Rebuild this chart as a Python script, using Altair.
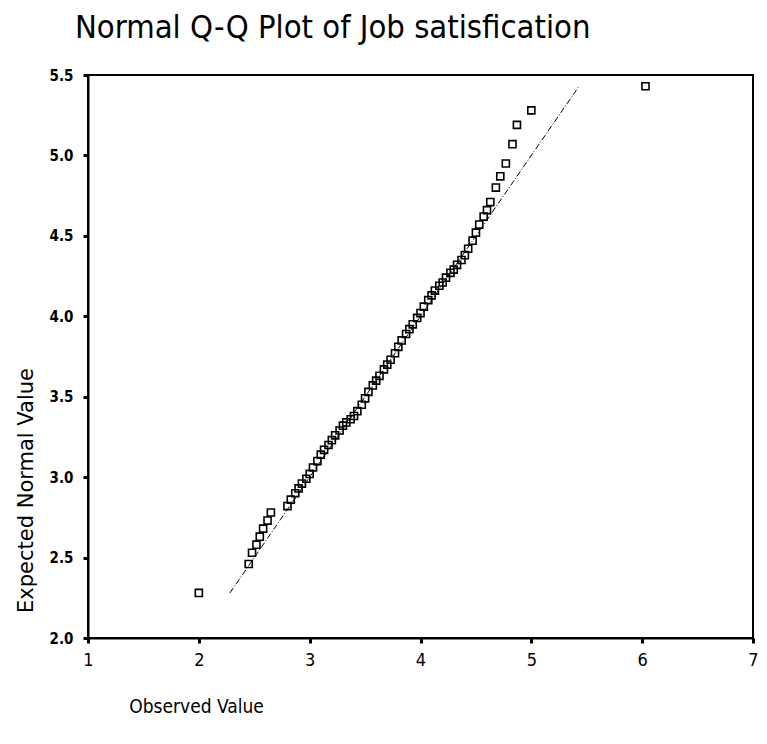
import altair as alt
import pandas as pd

# Observed values (job satisfaction scores) and their expected normal values
observed = [2.00, 2.45, 2.48, 2.52, 2.55, 2.58, 2.62, 2.65,
            2.80, 2.83, 2.87, 2.90, 2.93, 2.97, 3.00, 3.03, 3.07, 3.10,
            3.13, 3.17, 3.20, 3.23, 3.27, 3.30, 3.33, 3.37, 3.40, 3.43,
            3.47, 3.50, 3.53, 3.57, 3.60, 3.63, 3.67, 3.70, 3.73, 3.77,
            3.80, 3.83, 3.87, 3.90, 3.93, 3.97, 4.00, 4.03, 4.07, 4.10,
            4.13, 4.17, 4.20, 4.23, 4.27, 4.30, 4.33, 4.37, 4.40, 4.43,
            4.47, 4.50, 4.53, 4.57, 4.60, 4.63, 4.68, 4.72, 4.77, 4.83,
            4.87, 5.00, 6.03]
expected = [2.28, 2.46, 2.53, 2.58, 2.63, 2.68, 2.73, 2.78,
            2.82, 2.86, 2.90, 2.93, 2.96, 2.99, 3.02, 3.06, 3.10, 3.14,
            3.17, 3.20, 3.23, 3.26, 3.29, 3.32, 3.34, 3.36, 3.38, 3.41,
            3.45, 3.49, 3.53, 3.57, 3.60, 3.63, 3.67, 3.70, 3.73, 3.77,
            3.81, 3.85, 3.89, 3.92, 3.95, 3.99, 4.02, 4.06, 4.10, 4.13,
            4.16, 4.19, 4.21, 4.24, 4.27, 4.29, 4.32, 4.35, 4.38, 4.42,
            4.47, 4.52, 4.57, 4.62, 4.66, 4.71, 4.80, 4.87, 4.95, 5.07,
            5.19, 5.28, 5.43]

# Reference line (expected = observed) end points
line_x = [2.28, 5.43]
line_y = [2.28, 5.43]

x_ticks = [1, 2, 3, 4, 5, 6, 7]
y_ticks = [2.0, 2.5, 3.0, 3.5, 4.0, 4.5, 5.0, 5.5]

pts = pd.DataFrame({"Observed": observed, "Expected": expected})
ref = pd.DataFrame({"Observed": line_x, "Expected": line_y})

LBL = "DejaVu Sans Condensed"

xscale = alt.Scale(domain=[1, 7], nice=False, zero=False)
yscale = alt.Scale(domain=[2.0, 5.5], nice=False, zero=False)

xaxis = alt.Axis(values=x_ticks, format="d", title="Observed Value",
                 grid=False, domainColor="black", domainWidth=2,
                 tickColor="black", tickWidth=3, tickSize=5,
                 labelFont=LBL, labelFontSize=18, labelColor="black",
                 labelPadding=8, labelFlush=False,
                 titleFont=LBL, titleFontSize=19, titleFontWeight="normal",
                 titleColor="black", titleX=108, titleY=68,
                 titleAlign="center", titleBaseline="middle")
yaxis = alt.Axis(values=y_ticks, format=".1f", title="Expected Normal Value",
                 grid=False, domainColor="black", domainWidth=2,
                 tickColor="black", tickWidth=3, tickSize=5,
                 labelFont=LBL, labelFontSize=15, labelFontWeight="bold",
                 labelColor="black",
                 labelPadding=10, labelFlush=False,
                 titleFont="DejaVu Sans", titleFontSize=21, titleFontWeight="normal",
                 titleColor="black", titleX=-62, titleY=415,
                 titleAngle=-90, titleAlign="center", titleBaseline="middle")

points = alt.Chart(pts).mark_point(
    shape="square", filled=False, color="black", size=50, strokeWidth=1.6,
    opacity=1
).encode(
    x=alt.X("Observed:Q", scale=xscale, axis=xaxis),
    y=alt.Y("Expected:Q", scale=yscale, axis=yaxis),
)

line = alt.Chart(ref).mark_line(
    color="black", strokeWidth=1, strokeDash=[6, 2, 1, 2]
).encode(
    x=alt.X("Observed:Q", scale=xscale, axis=xaxis),
    y=alt.Y("Expected:Q", scale=yscale, axis=yaxis),
)

chart = alt.layer(points, line).properties(
    width=665, height=563,
    background="white",
    autosize=alt.AutoSizeParams(type="none"),
    padding={"left": 80, "top": 67, "right": 6, "bottom": 90},
    title=alt.TitleParams(
        "Normal Q-Q Plot of Job satisfication",
        font=LBL, fontSize=32.5, fontWeight="normal", color="black",
        anchor="start", frame="group", dx=-13, offset=24,
    ),
).configure_view(
    stroke="black", strokeWidth=2
)

chart.save("out.html", embed_options={"renderer": "svg", "actions": False})
